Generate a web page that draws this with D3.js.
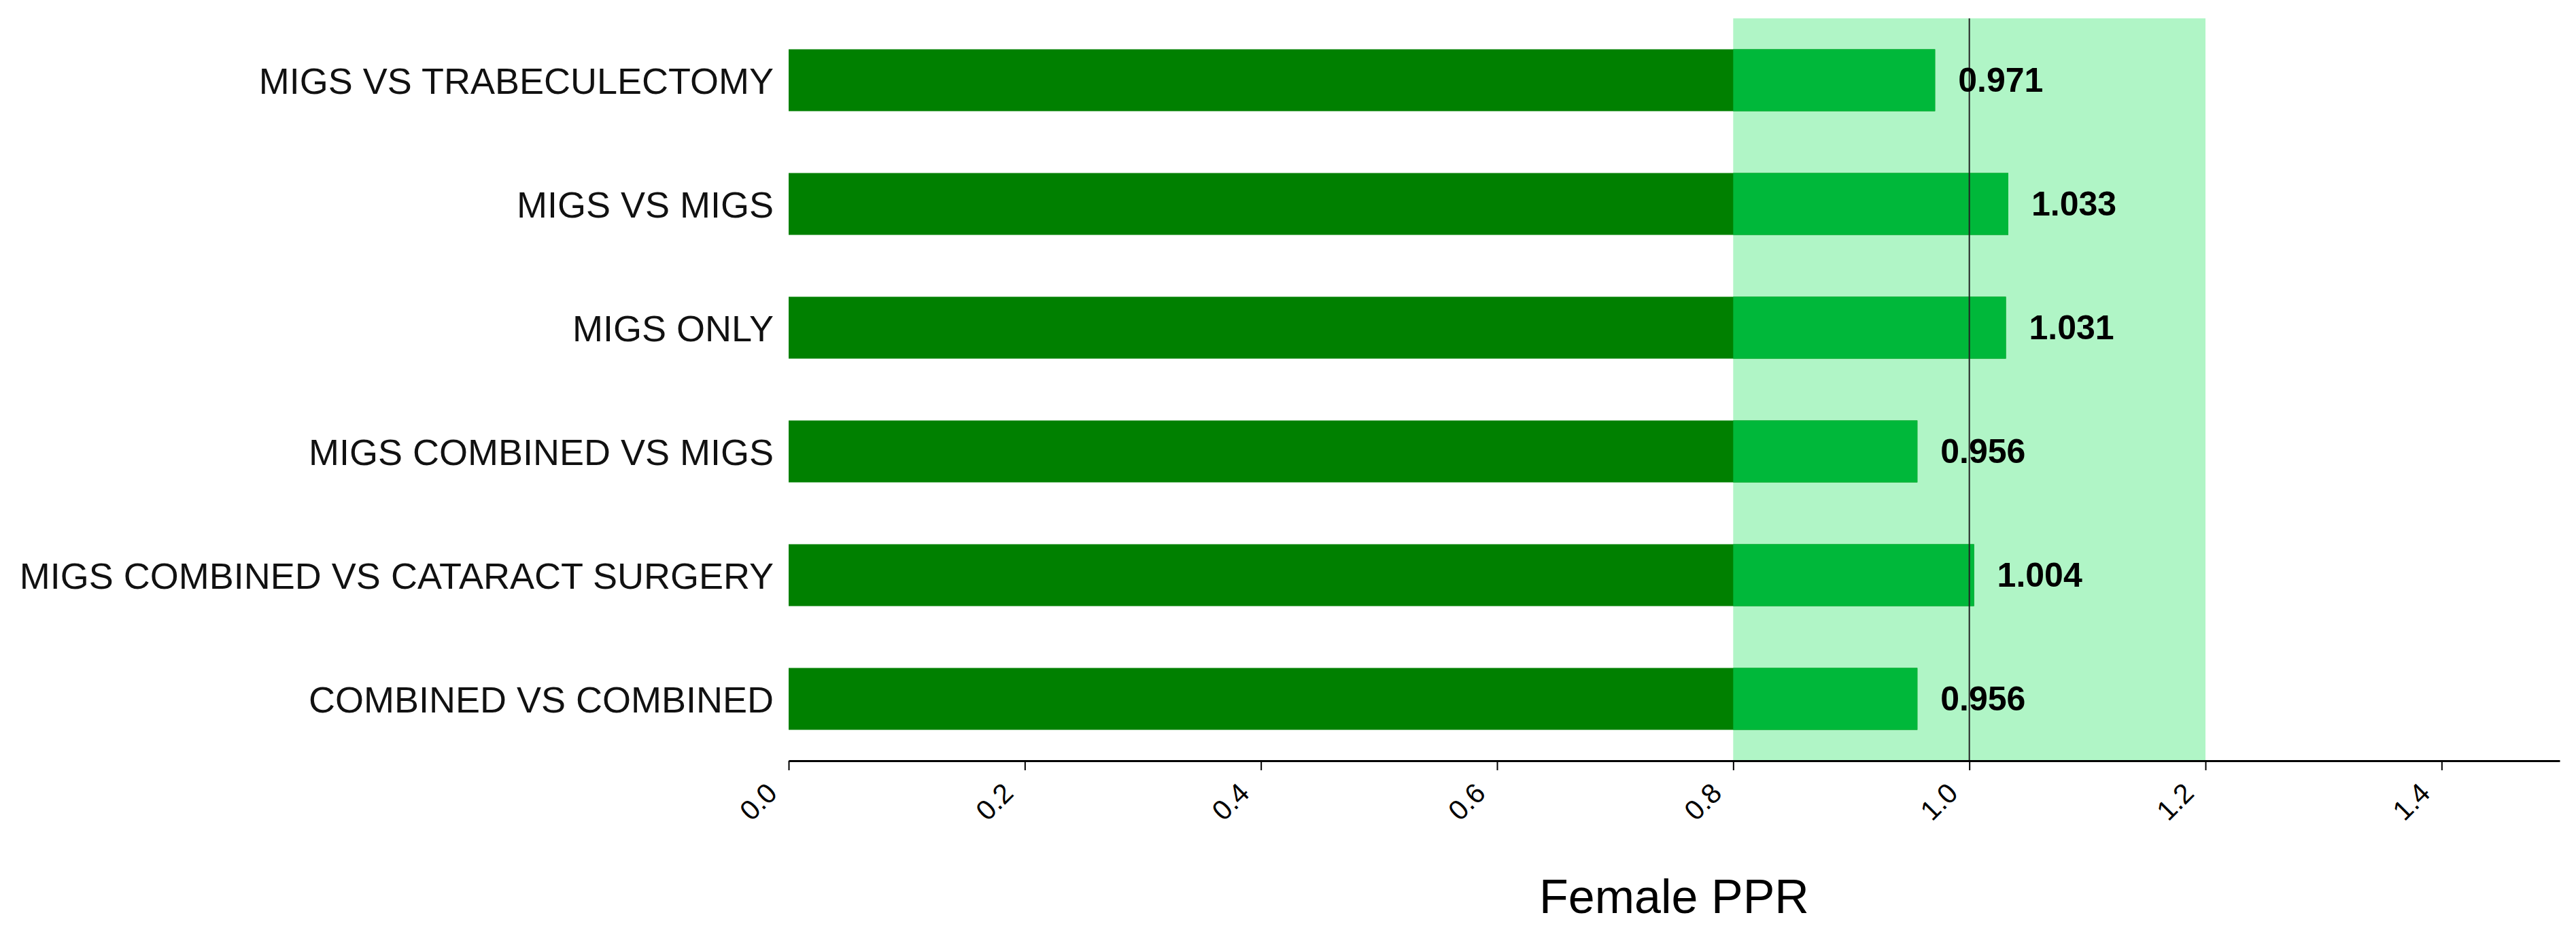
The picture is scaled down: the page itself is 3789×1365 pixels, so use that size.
<!DOCTYPE html>
<html>
<head>
<meta charset="utf-8">
<script src="https://cdn.jsdelivr.net/npm/d3@7"></script>
<style>
  body { margin: 0; background: #fff; }
  svg { display: block; font-family: "Liberation Sans", Arial, sans-serif; }
</style>
</head>
<body>
<svg id="chart"></svg>
<script>
// categories, top to bottom
const categories = [
  "MIGS VS TRABECULECTOMY",
  "MIGS VS MIGS",
  "MIGS ONLY",
  "MIGS COMBINED VS MIGS",
  "MIGS COMBINED VS CATARACT SURGERY",
  "COMBINED VS COMBINED"
];
const femalePPR = [0.971, 1.033, 1.031, 0.956, 1.004, 0.956];
const xTicks = [0.0, 0.2, 0.4, 0.6, 0.8, 1.0, 1.2, 1.4];
const parityBand = [0.8, 1.2];
const parityLine = 1.0;
const xTitle = "Female PPR";

const data = categories.map((c, i) => ({ label: c, value: femalePPR[i] }));

const width = 3789;
const height = 1365;

const svg = d3.select("#chart")
  .attr("width", width)
  .attr("height", height)
  .attr("viewBox", [0, 0, width, height]);

/** Scales
------------------------------------------------------------*/

const x = d3.scaleLinear()
  .domain([0, 1.5])
  .range([1160, 3765]);

const y = d3.scaleBand()
  .domain(categories)
  .range([27, 1119])
  .paddingInner(0.5)
  .paddingOuter(0.25);

const plotTop = y.range()[0];
const plotBottom = y.range()[1];

/** Shaded band 0.8 - 1.2
------------------------------------------------------------*/

svg.append("rect")
  .attr("x", x(parityBand[0]))
  .attr("y", plotTop)
  .attr("width", x(parityBand[1]) - x(parityBand[0]))
  .attr("height", plotBottom - plotTop)
  .attr("fill", "#b0f5c6");

/** Bars
------------------------------------------------------------*/

const bars = svg.append("g");

bars.selectAll("rect.dark")
  .data(data)
  .enter().append("rect")
  .attr("class", "dark")
  .attr("x", x(0))
  .attr("y", d => y(d.label))
  .attr("width", d => x(d.value) - x(0))
  .attr("height", y.bandwidth())
  .attr("fill", "#008000");

// part of each bar that sits inside the band looks brighter
bars.selectAll("rect.inband")
  .data(data.filter(d => d.value > parityBand[0]))
  .enter().append("rect")
  .attr("class", "inband")
  .attr("x", x(parityBand[0]))
  .attr("y", d => y(d.label))
  .attr("width", d => x(Math.min(d.value, parityBand[1])) - x(parityBand[0]))
  .attr("height", y.bandwidth())
  .attr("fill", "#00b83a");

/** Reference line at 1.0
------------------------------------------------------------*/

svg.append("line")
  .attr("x1", x(parityLine))
  .attr("x2", x(parityLine))
  .attr("y1", plotTop)
  .attr("y2", plotBottom)
  .attr("stroke", "#222")
  .attr("stroke-width", 2);

/** Value labels
------------------------------------------------------------*/

svg.append("g")
  .selectAll("text")
  .data(data)
  .enter().append("text")
  .attr("x", d => x(d.value) + 34)
  .attr("y", d => y(d.label) + y.bandwidth() / 2 + 17)
  .attr("font-size", 50)
  .attr("font-weight", "bold")
  .attr("fill", "#000")
  .text(d => d.value.toFixed(3));

/** Category labels
------------------------------------------------------------*/

svg.append("g")
  .selectAll("text")
  .data(data)
  .enter().append("text")
  .attr("x", x(0) - 22)
  .attr("y", d => y(d.label) + y.bandwidth() / 2 + 20)
  .attr("text-anchor", "end")
  .attr("font-size", 54)
  .attr("fill", "#111")
  .text(d => d.label);

/** X axis
------------------------------------------------------------*/

const xAxis = svg.append("g")
  .attr("transform", `translate(0,${plotBottom})`)
  .call(d3.axisBottom(x)
    .tickValues(xTicks)
    .tickFormat(d3.format(".1f"))
    .tickSize(14)
    .tickSizeOuter(0));

xAxis.select(".domain")
  .attr("stroke", "#000")
  .attr("stroke-width", 3);

xAxis.selectAll(".tick line")
  .attr("stroke", "#000")
  .attr("stroke-width", 2);

xAxis.selectAll(".tick text")
  .attr("font-size", 41)
  .attr("font-family", "Liberation Sans, Arial, sans-serif")
  .attr("fill", "#000")
  .attr("text-anchor", "end")
  .attr("dy", null)
  .attr("y", 0)
  .attr("transform", "translate(-15,50) rotate(-45)");

svg.append("text")
  .attr("x", (x.range()[0] + x.range()[1]) / 2)
  .attr("y", 1343)
  .attr("text-anchor", "middle")
  .attr("font-size", 70)
  .attr("fill", "#000")
  .text(xTitle);
</script>
</body>
</html>
